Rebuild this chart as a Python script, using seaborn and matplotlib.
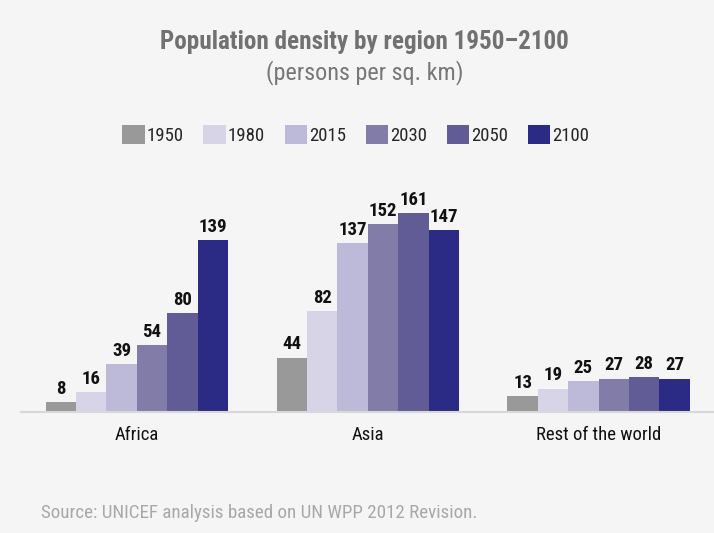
import pandas as pd
import matplotlib
matplotlib.use("Agg")
import matplotlib.pyplot as plt
import seaborn as sns

regions = ["Africa", "Asia", "Rest of the world"]
years = ["1950", "1980", "2015", "2030", "2050", "2100"]
africa = [8, 16, 39, 54, 80, 139]
asia = [44, 82, 137, 152, 161, 147]
rest = [13, 19, 25, 27, 28, 27]
colors = ["#999999", "#d6d4e6", "#bdbad9", "#827ca8", "#625c96", "#2b2a85"]

rows = []
for region, vals in zip(regions, [africa, asia, rest]):
    for yr, v in zip(years, vals):
        rows.append({"region": region, "year": yr, "value": v})
df = pd.DataFrame(rows)

sns.set_style("white")
plt.rcParams["font.family"] = ["Roboto Condensed", "Roboto", "DejaVu Sans"]

BG = "#f5f5f5"
fig = plt.figure(figsize=(7.14, 5.33), dpi=100, facecolor=BG)
ax = fig.add_axes([0.03, 0.227, 0.97, 0.473], facecolor=BG)

sns.barplot(data=df, x="region", y="value", hue="year", palette=colors,
            width=0.79, saturation=1, linewidth=0, ax=ax, legend=True)

for cont in ax.containers:
    ax.bar_label(cont, padding=3, fontsize=13.5, fontweight="bold", color="#111111")

ax.set_ylim(0, 204)
ax.set_xlim(-0.5, 2.5)
ax.set_xlabel("")
ax.set_ylabel("")
ax.set_yticks([])
ax.tick_params(axis="x", length=0, labelsize=13.5, pad=10, labelcolor="#111111")
for side in ["top", "right", "left"]:
    ax.spines[side].set_visible(False)
ax.spines["bottom"].set_color("#d8d8d8")
ax.spines["bottom"].set_linewidth(1.5)

handles, labels = ax.get_legend_handles_labels()
ax.get_legend().remove()
fig.legend(handles, labels, loc="center", bbox_to_anchor=(0.498, 0.747), ncol=6,
           frameon=False, fontsize=13.5, handlelength=1.2, handleheight=1.2,
           handletextpad=0.1, columnspacing=1.05)

fig.text(0.511, 0.922, "Population density by region 1950\u20132100", ha="center",
         va="center", fontsize=18.1, fontweight="bold", color="#717171")
fig.text(0.511, 0.863, "(persons per sq. km)", ha="center", va="center",
         fontsize=17.4, color="#777777")
fig.text(0.058, 0.037, "Source: UNICEF analysis based on UN WPP 2012 Revision.",
         ha="left", va="center", fontsize=13.7, color="#a8a8a8")

fig.savefig("out.png", dpi=100, facecolor=BG)
